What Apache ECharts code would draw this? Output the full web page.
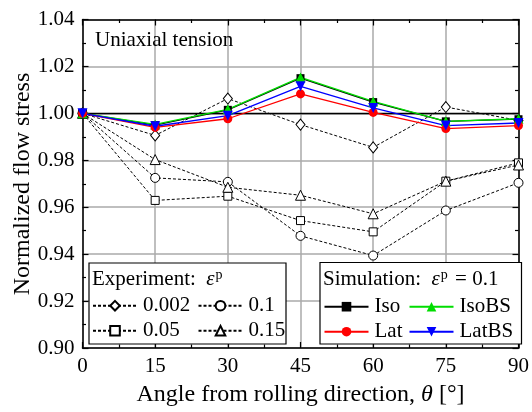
<!DOCTYPE html>
<html><head><meta charset="utf-8">
<script src="https://cdn.jsdelivr.net/npm/echarts@6/dist/echarts.min.js"></script>
<style>html,body{margin:0;padding:0;background:#fff}#c{width:532px;height:412px}
#warm{position:absolute;left:-9999px;top:0;font-family:'Liberation Serif';font-size:21px}</style>
</head><body><div id="warm">Uniaxial 1.04 <i>θ ε</i></div><div id="c"></div>
<script>
const angles = [0, 15, 30, 45, 60, 75, 90];
const xTicks = [0, 15, 30, 45, 60, 75, 90];
const yTicks = [0.90, 0.92, 0.94, 0.96, 0.98, 1.00, 1.02, 1.04];
// Experiment (plastic strain levels)
const exp0002 = [1.000, 0.9906, 1.0063, 0.9952, 0.9855, 1.0027, 0.9970];
const exp01   = [1.000, 0.9725, 0.9708, 0.9478, 0.9394, 0.9586, 0.9704];
const exp005  = [1.000, 0.9629, 0.9647, 0.9543, 0.9495, 0.9711, 0.9789];
const exp015  = [1.000, 0.9803, 0.9685, 0.9651, 0.9572, 0.9711, 0.9780];
// Simulation (eps_p = 0.1)
const simIso   = [1.000, 0.9950, 1.0015, 1.0150, 1.0048, 0.9966, 0.9975];
const simIsoBS = [1.000, 0.9953, 1.0017, 1.0153, 1.0051, 0.9966, 0.9977];
const simLat   = [1.000, 0.9940, 0.9977, 1.0083, 1.0004, 0.9935, 0.9948];
const simLatBS = [1.000, 0.9945, 0.9990, 1.0115, 1.0023, 0.9948, 0.9959];

const pairs = v => angles.map((a, i) => [a, v[i]]);
const FONT = 'Liberation Serif';

function expSeries(name, vals, symbol, size) {
  return {
    name, type: 'line', data: pairs(vals), symbol, symbolSize: size, z: 3,
    lineStyle: { color: '#000', width: 1, type: [3, 2] },
    itemStyle: { color: '#fff', borderColor: '#000', borderWidth: 1 }
  };
}
function simSeries(name, vals, color, symbol, size, rot) {
  return {
    name, type: 'line', data: pairs(vals), symbol, symbolSize: size, symbolRotate: rot || 0, z: 5,
    lineStyle: { color, width: 1.3 },
    itemStyle: { color, borderWidth: 0 }
  };
}
const series = [
  expSeries('0.002', exp0002, 'diamond', [9, 11]),
  expSeries('0.1', exp01, 'circle', 9),
  expSeries('0.05', exp005, 'rect', 8),
  expSeries('0.15', exp015, 'triangle', 10),
  simSeries('Iso', simIso, '#000', 'rect', 8),
  simSeries('IsoBS', simIsoBS, '#00dd00', 'triangle', 10),
  simSeries('Lat', simLat, '#ff0000', 'circle', 9),
  simSeries('LatBS', simLatBS, '#0000ff', 'triangle', 10, 180)
];
series[4].markLine = {
  silent: true, symbol: 'none', label: { show: false },
  lineStyle: { color: '#000', width: 1.3, type: 'solid' },
  data: [{ yAxis: 1.0 }], z: 2
};

function leg(name, left, centerY) {
  return {
    data: [name], left, top: centerY - 10.5, padding: 0, orient: 'vertical',
    itemWidth: 44, itemHeight: 12, itemGap: 0, z: 20, selectedMode: false,
    textStyle: { fontFamily: FONT, fontSize: 21, color: '#000', padding: [0, 0, 0, 1] }
  };
}

const baseAxis = {
  axisLine: { show: true, onZero: false, lineStyle: { color: '#000', width: 1.5 } },
  axisTick: { show: true, inside: true, length: 6, lineStyle: { color: '#000', width: 1.2 } },
  minorTick: { show: true, splitNumber: 2, length: 3.5, lineStyle: { color: '#000', width: 1.2 } }
};

const option = {
  animation: false,
  textStyle: { fontFamily: FONT, color: '#000' },
  title: {
    text: 'Uniaxial tension', left: 95, top: 30, padding: 0,
    textStyle: { fontFamily: FONT, fontSize: 21, fontWeight: 'normal', color: '#000' }
  },
  grid: { left: 82.5, right: 11.3, top: 19.5, bottom: 63.5, containLabel: false },
  xAxis: [
    Object.assign({}, baseAxis, {
      type: 'value', min: 0, max: 90, interval: 15, position: 'bottom',
      name: 'Angle from rolling direction, {i|θ} [°]', nameLocation: 'middle', nameGap: 35,
      nameTextStyle: { fontFamily: FONT, fontSize: 24, color: '#000',
        rich: { i: { fontFamily: FONT, fontSize: 24, fontStyle: 'italic', color: '#000' } } },
      axisLabel: { fontFamily: FONT, fontSize: 21, color: '#000', margin: 8,
        formatter: v => xTicks.includes(v) ? String(v) : '' },
      splitLine: { show: true, lineStyle: { color: '#aaaaaa', width: 1.5 } }
    }),
    Object.assign({}, baseAxis, {
      type: 'value', min: 0, max: 90, interval: 15, position: 'top',
      axisLabel: { show: false }, splitLine: { show: false }
    })
  ],
  yAxis: [
    Object.assign({}, baseAxis, {
      type: 'value', min: 0.90, max: 1.04, interval: 0.02, position: 'left',
      axisLabel: { fontFamily: FONT, fontSize: 21, color: '#000', margin: 8,
        formatter: v => { const t = yTicks.find(y => Math.abs(y - v) < 1e-9); return t === undefined ? '' : t.toFixed(2); } },
      splitLine: { show: true, lineStyle: { color: '#aaaaaa', width: 1.5 } }
    }),
    Object.assign({}, baseAxis, {
      type: 'value', min: 0.90, max: 1.04, interval: 0.02, position: 'right',
      axisLabel: { show: false }, splitLine: { show: false }
    })
  ],
  legend: [
    leg('0.002', 92, 305.7), leg('0.05', 92, 330.7),
    leg('0.1', 197.5, 305.7), leg('0.15', 197.5, 330.7),
    leg('Iso', 323.5, 306.7), leg('Lat', 323.5, 331.7),
    leg('IsoBS', 408.5, 306.7), leg('LatBS', 408.5, 331.7)
  ],
  graphic: [
    { type: 'text', x: 23, y: 184, rotation: Math.PI / 2,
      style: { text: 'Normalized flow stress', fill: '#000', fontFamily: FONT, fontSize: 24,
        align: 'center', verticalAlign: 'middle' } },
    { type: 'rect', z: 10, shape: { x: 89, y: 263, width: 197, height: 81 },
      style: { fill: '#fff', stroke: '#000', lineWidth: 1.2 } },
    { type: 'rect', z: 10, shape: { x: 320, y: 262.5, width: 201.5, height: 81.5 },
      style: { fill: '#fff', stroke: '#000', lineWidth: 1.2 } },
    { type: 'text', z: 11, left: 92, top: 268,
      style: { text: 'Experiment:  {i|ε}{s|p}', fill: '#000', fontFamily: FONT, fontSize: 21,
        rich: { i: { fontFamily: FONT, fontSize: 21, fontStyle: 'italic' },
                s: { fontFamily: FONT, fontSize: 14, verticalAlign: 'top', padding: [0, 0, 8, 1] } } } },
    { type: 'text', z: 11, left: 323, top: 268,
      style: { text: 'Simulation:  {i|ε}{s|p} = 0.1', fill: '#000', fontFamily: FONT, fontSize: 21,
        rich: { i: { fontFamily: FONT, fontSize: 21, fontStyle: 'italic' },
                s: { fontFamily: FONT, fontSize: 14, verticalAlign: 'top', padding: [0, 2, 8, 1] } } } }
  ],
  series
};
const chart = echarts.init(document.getElementById('c'));
function draw() { chart.clear(); chart.setOption(option, true); }
draw();
if (document.fonts && document.fonts.load) {
  Promise.all([
    document.fonts.load('21px "Liberation Serif"'),
    document.fonts.load('italic 21px "Liberation Serif"')
  ]).then(draw).catch(function () {});
  document.fonts.ready.then(draw);
}
setTimeout(draw, 60);
</script>
</body></html>
